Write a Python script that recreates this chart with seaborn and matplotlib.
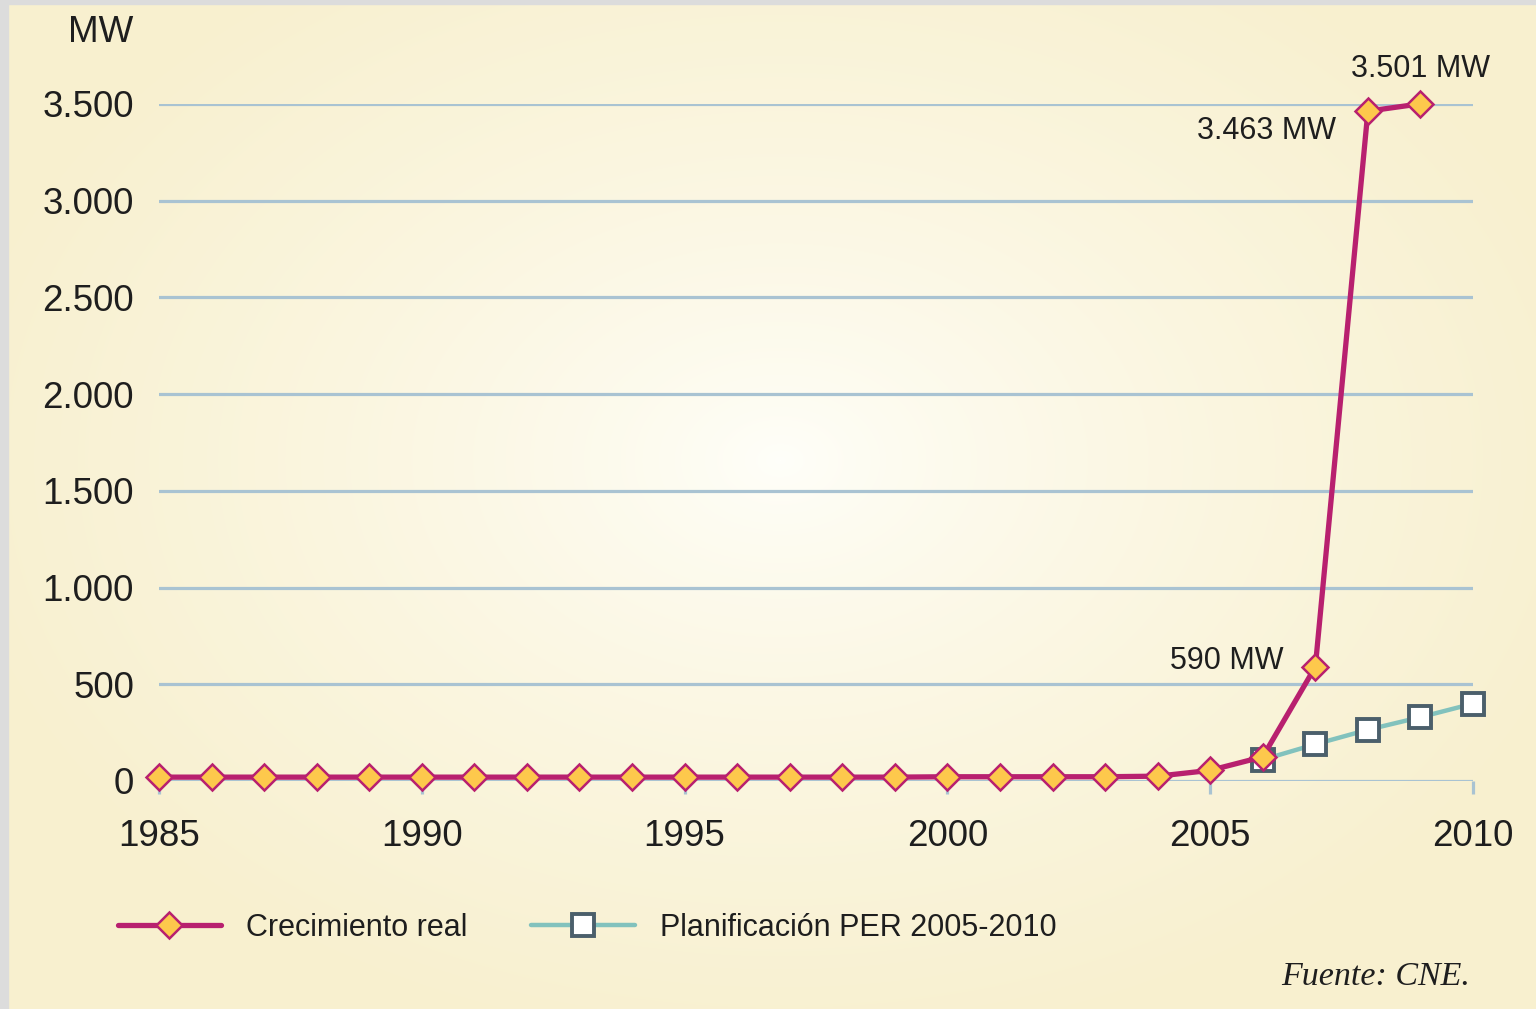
import numpy as np
import pandas as pd
import matplotlib
matplotlib.use("Agg")
import matplotlib.pyplot as plt
import seaborn as sns
from matplotlib.patches import Rectangle

# ---- data ----
real_years = list(range(1985, 2010))
real_values = [20, 20, 20, 20, 20, 20, 20, 20, 20, 20, 20, 20, 20, 20, 20,
               22, 22, 22, 22, 25, 55, 125, 590, 3463, 3501]
plan_years = [2006, 2007, 2008, 2009, 2010]
plan_values = [110, 190, 265, 330, 400]
y_ticks = [0, 500, 1000, 1500, 2000, 2500, 3000, 3500]
y_tick_labels = ["0", "500", "1.000", "1.500", "2.000", "2.500", "3.000", "3.500"]
x_ticks = [1985, 1990, 1995, 2000, 2005, 2010]
annotations = [(2009, 3501, "3.501 MW"), (2008, 3463, "3.463 MW"), (2007, 590, "590 MW")]
series_labels = ["Crecimiento real", "Planificación PER 2005-2010"]

sns.set_theme(style="white")
plt.rcParams['font.family'] = ['Liberation Sans', 'DejaVu Sans']

W, H, DPI = 1536, 1009, 100
fig = plt.figure(figsize=(W / DPI, H / DPI), dpi=DPI)

# background radial gradient
bg = fig.add_axes([0, 0, 1, 1], zorder=-10)
yy, xx = np.mgrid[0:H, 0:W]
r = np.sqrt(((xx - 780) / 850.0) ** 2 + ((yy - 460) / 600.0) ** 2)
r = np.clip(r, 0, 1) ** 0.75
c_in = np.array([255, 255, 250]) / 255.0
c_out = np.array([248, 240, 207]) / 255.0
img = c_in[None, None, :] * (1 - r[..., None]) + c_out[None, None, :] * r[..., None]
bg.imshow(img, aspect="auto", extent=[0, W, H, 0])
bg.set_xlim(0, W); bg.set_ylim(H, 0)
bg.axis("off")
# gray border top and left
fig.patches.append(Rectangle((0, 1 - 4 / H), 1, 4 / H, transform=fig.transFigure,
                             color="#DCDCDC", zorder=-5))
fig.patches.append(Rectangle((0, 0), 8 / W, 1, transform=fig.transFigure,
                             color="#DCDCDC", zorder=-5))

left, right = 159 / W, 1473 / W
bottom, top = 1 - 781 / H, 1 - 104 / H
ax = fig.add_axes([left, bottom, right - left, top - bottom])
ax.set_facecolor("none")

real_df = pd.DataFrame({"year": real_years, "MW": real_values})
plan_df = pd.DataFrame({"year": plan_years, "MW": plan_values})

grid_c = "#A9C3D2"
for yv in y_ticks:
    ax.axhline(yv, color=grid_c, lw=2.3, zorder=1)

sns.lineplot(data=plan_df, x="year", y="MW", ax=ax, color="#82C2BD", lw=3.2,
             marker="s", markersize=15.5, markerfacecolor="white",
             markeredgecolor="#4B5F6B", markeredgewidth=2.8,
             label=series_labels[1], zorder=3, clip_on=False)
sns.lineplot(data=real_df, x="year", y="MW", ax=ax, color="#B8206F", lw=3.8,
             marker="D", markersize=13.5, markerfacecolor="#FDC84C",
             markeredgecolor="#B8206F", markeredgewidth=1.8,
             label=series_labels[0], zorder=4, clip_on=False)

ax.set_xlim(1985, 2010)
ax.set_ylim(0, 3500)
ax.set_xlabel("")
ax.set_ylabel("")
for s in ["left", "right", "top", "bottom"]:
    ax.spines[s].set_visible(False)

ax.set_yticks(y_ticks)
ax.set_yticklabels(y_tick_labels)
ax.set_xticks(x_ticks)
ax.set_xticklabels([str(x) for x in x_ticks])
ax.tick_params(axis="y", length=0, pad=18, labelsize=26.5, labelcolor="#1E1E1E")
ax.tick_params(axis="x", direction="out", length=9, width=2.3, color=grid_c,
               pad=18, labelsize=26.5, labelcolor="#1E1E1E", bottom=True)

# MW unit label
fig.text(133 / W, 1 - 33 / H, "MW", ha="right", va="center", fontsize=26.5, color="#1E1E1E")

# annotations
offsets = {2009: ((0, 25), "center", "center"),
           2008: ((-23, -14), "right", "center"),
           2007: ((-23, 4), "right", "center")}
for x, y, t in annotations:
    off, ha, va = offsets[x]
    ax.annotate(t, (x, y), xytext=off, textcoords="offset points", ha=ha, va=va,
                fontsize=22, color="#1E1E1E")

# legend
handles, labels = ax.get_legend_handles_labels()
order = [labels.index(series_labels[0]), labels.index(series_labels[1])]
leg = ax.legend([handles[i] for i in order], [labels[i] for i in order],
                loc="center left", bbox_to_anchor=(90 / W, 1 - 928 / H),
                bbox_transform=fig.transFigure, ncol=2, frameon=False,
                handlelength=3.4, handletextpad=0.8, columnspacing=2.1,
                prop={"size": 22})
for t in leg.get_texts():
    t.set_color("#1E1E1E")

fig.text(1470 / W, 1 - 977 / H, "Fuente: CNE.", ha="right", va="center",
         fontsize=24.5, style="italic", family=['Liberation Serif', 'DejaVu Serif'],
         color="#1E1E1E")

fig.savefig("out.png", dpi=DPI)
